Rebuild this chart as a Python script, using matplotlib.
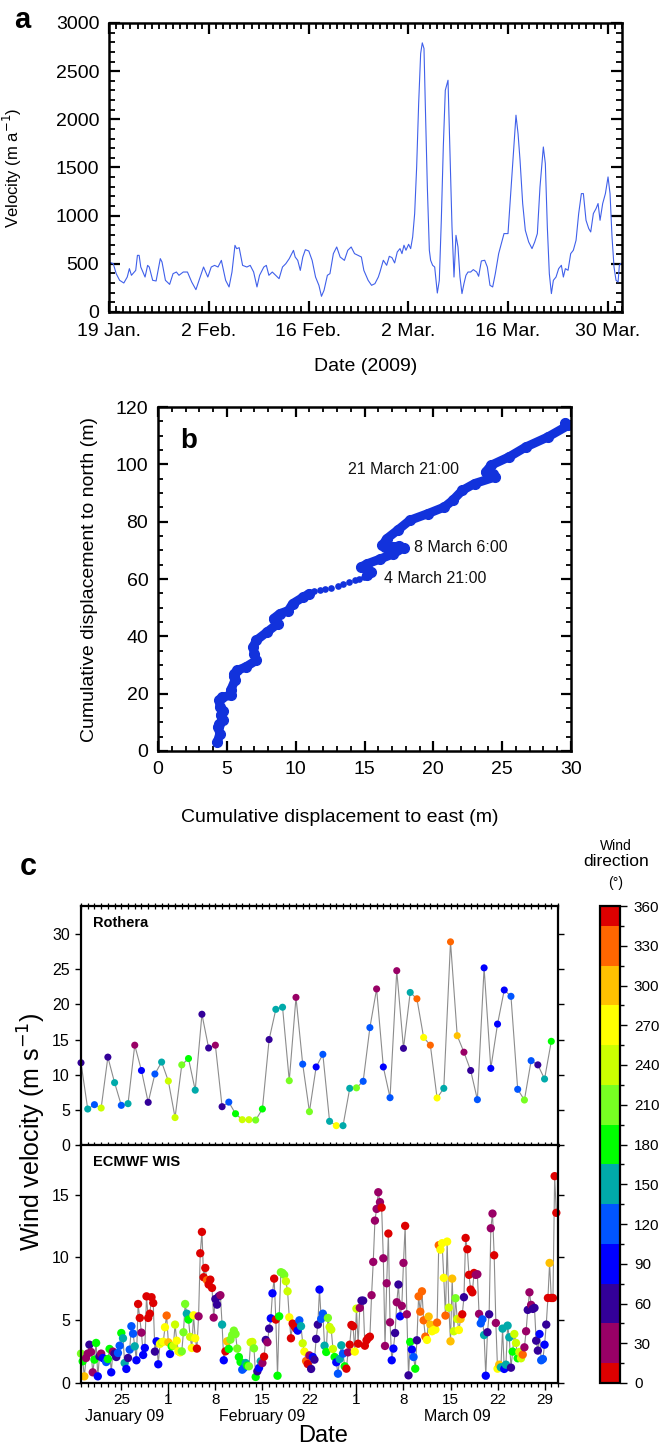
import numpy as np
import pandas as pd
import matplotlib
matplotlib.use('Agg')
import matplotlib.pyplot as plt
import matplotlib.dates as mdates
import matplotlib.transforms as mtransforms
from matplotlib.colors import ListedColormap, BoundaryNorm
from matplotlib.ticker import MultipleLocator, FixedLocator

plt.rcParams['font.family'] = ['Liberation Sans', 'DejaVu Sans']

# ---------------- Panel a: velocity ----------------
vel_day = [0.0, 0.6, 1.01, 1.49, 2.08, 2.56, 2.86, 3.15, 3.75, 3.99, 4.23, 4.46, 5.06, 5.42, 5.65,
           6.13, 6.61, 7.2, 7.44, 7.92, 8.51, 8.99, 9.46, 9.82, 10.42, 11.01, 11.61, 12.2, 12.8,
           13.27, 13.87, 14.35, 14.82, 15.3, 15.77, 16.37, 16.85, 17.26, 17.68, 17.92, 18.27,
           18.75, 19.35, 19.82, 20.3, 20.77, 21.13, 21.73, 22.08, 22.44, 22.92, 23.39, 23.87,
           24.35, 24.82, 25.3, 25.89, 26.13, 26.49, 26.85, 27.2, 27.56, 28.04, 28.51, 28.99,
           29.46, 29.82, 30.18, 30.65, 31.01, 31.49, 31.96, 32.44, 33.04, 33.51, 33.99, 34.46,
           34.94, 35.42, 35.77, 36.37, 36.85, 37.32, 37.8,
           38.03, 38.5, 38.97, 39.34, 39.71, 40.09, 40.46, 40.84, 41.12, 41.4, 41.68, 42.05,
           42.34, 42.62, 42.9, 43.18, 43.46, 43.74, 43.97, 44.21, 44.39, 44.68, 44.96, 45.14,
           45.42, 45.71, 46.08, 46.36, 46.64, 46.92, 47.2, 47.58, 47.86, 48.14, 48.42, 48.7,
           48.98, 49.26, 49.54, 49.82, 50.1, 50.39, 50.76, 51.13, 51.6, 51.88, 52.26, 52.73,
           53.1, 53.47, 53.85, 54.22, 54.69, 55.07, 55.44, 56.0, 56.38, 56.75, 57.12, 57.41,
           57.69, 58.06, 58.43, 58.9, 59.37, 59.75, 60.12, 60.49, 60.96, 61.24, 61.52, 61.8,
           62.09, 62.37, 62.74, 63.11, 63.49, 63.77, 64.05, 64.43, 64.8, 65.17, 65.55, 65.92,
           66.3, 66.58, 66.95, 67.33, 67.61, 67.98, 68.36, 68.64, 68.92, 69.29, 69.67, 70.04,
           70.32, 70.6, 70.88, 71.16, 71.45, 71.63, 71.82]
vel_val = [519, 502, 398, 329, 301, 363, 450, 381, 432, 588, 588, 467, 363, 484, 467,
           329, 322, 554, 519, 329, 287, 398, 415, 381, 415, 415, 311, 232, 363,
           467, 363, 467, 484, 467, 536, 329, 260, 415, 692, 657, 668,
           484, 467, 484, 415, 260, 381, 467, 484, 381, 415, 381, 346,
           467, 502, 554, 640, 571, 536, 432, 571, 647, 633, 536, 363,
           277, 163, 225, 381, 398, 606, 675, 571, 536, 640, 675, 606,
           588, 571, 432, 329, 277, 294, 363,
           415, 537, 485, 578, 565, 509, 623, 658, 606, 693, 641, 703,
           658, 779, 1022, 1506, 2164, 2683, 2794, 2735, 2164, 1298, 641, 537,
           485, 467, 197, 329, 952, 1713, 2302, 2406, 1645, 883, 363, 796,
           675, 363, 191, 295, 381, 415, 415, 440, 415, 371, 530, 537,
           467, 277, 260, 398, 606, 710, 814, 814, 1229, 1645, 2043, 1852,
           1575, 1126, 848, 727, 658, 727, 814, 1298, 1713, 1541, 883, 398,
           191, 329, 363, 450, 485, 363, 450, 433, 606, 641, 744, 1022,
           1229, 1229, 952, 866, 831, 1022, 1074, 1126, 952, 1126, 1229, 1402,
           1229, 779, 467, 329, 311, 485, 502]
a_tick_labels = ['19 Jan.', '2 Feb.', '16 Feb.', '2 Mar.', '16 Mar.', '30 Mar.']

# ---------------- Panel b: displacement ----------------
east_low = [4.3, 4.5, 4.35, 4.45, 4.7, 4.55, 4.75, 4.5, 4.45, 4.66, 5.28, 5.28, 5.59, 5.5, 5.53,
            5.75, 6.37, 7.14, 6.99, 6.9, 7.14, 7.92, 8.7, 8.39, 8.85, 9.47, 9.78, 10.56, 11.0]
north_low = [3.1, 6.0, 8.4, 9.5, 10.7, 12.5, 14.0, 15.5, 17.7, 18.8, 19.4, 21.2, 24.7, 26.0, 27.0,
             28.1, 29.3, 31.6, 34.0, 36.3, 38.6, 41.5, 44.4, 46.2, 47.9, 49.0, 51.4, 53.7, 54.9]
east_gap = [11.34, 11.74, 12.11, 12.58, 13.04, 13.45, 13.91, 14.29, 14.6, 14.97]
north_gap = [55.7, 56.0, 56.5, 57.0, 57.7, 58.1, 58.8, 59.5, 60.0, 60.7]
east_high = [15.2, 15.5, 15.2, 14.75, 15.2, 16.15, 17.1, 17.85, 17.5, 17.1, 16.5, 16.3, 16.6, 17.4,
             18.3, 19.6, 20.8, 21.4, 22.1, 23.0, 24.5, 24.3, 23.8, 24.2, 25.5, 26.7, 28.3, 29.8, 29.6]
north_high = [61.3, 62.5, 63.5, 64.2, 65.3, 67.0, 68.8, 70.9, 71.5, 71.2, 71.2, 71.7, 74.0, 77.0,
              80.5, 82.8, 85.1, 87.4, 90.9, 93.3, 95.6, 96.5, 97.3, 99.7, 102.6, 106.0, 109.5, 113.6, 114.5]
b_notes = ['21 March 21:00', '8 March 6:00', '4 March 21:00']
b_note_east = [13.8, 18.6, 16.4]
b_note_north = [98.2, 70.9, 60.2]

# ---------------- Panel c: wind ----------------
rothera_speed = [11.7, 5.12, 5.74, 5.26, 12.5, 8.87, 5.64, 5.88, 14.2, 10.6,
                 6.07, 10.1, 11.8, 9.1, 3.9, 11.4, 12.3, 7.8, 18.6, 13.8,
                 14.2, 5.45, 6.1, 4.45, 3.6, 3.6, 3.55, 5.12, 15.0, 19.3,
                 19.6, 9.15, 21.0, 11.5, 4.74, 11.1, 12.9, 3.37, 2.75, 2.75,
                 8.06, 8.13, 9.06, 16.7, 22.2, 11.1, 6.73, 24.8, 13.75, 21.7,
                 20.8, 15.3, 14.2, 6.69, 8.06, 28.9, 15.55, 13.2, 10.6, 6.45,
                 25.2, 10.9, 17.2, 22.05, 21.15, 7.92, 6.4, 12.0, 11.4, 9.39, 14.75]
rothera_dir = ("I T LB YG I T LB T M B I LB T YG YG LG G T I I M I LB G YG YG LG G I T "
               "T LG M LB LG B LB T Y T T LG LB LB M B LB M I T O Y O Y T O OY M I LB "
               "B B B B LB LB LG LB I T G").split()

ecmwf_speed = [
    # 19 Jan - 6 Feb
    2.34, 1.73, 0.53, 1.99, 2.34, 3.05, 2.47, 0.85, 1.86, 3.19,
    0.53, 2.12, 2.34, 1.99, 1.91, 1.67, 1.91, 2.71, 0.85, 2.5,
    2.34, 2.07, 2.39, 2.97, 3.98, 3.56, 1.59, 1.12, 1.99, 2.66,
    4.52, 3.93, 2.92, 1.81, 6.29, 5.18, 4.01, 2.23, 2.79, 6.9,
    5.18, 5.52, 6.83, 6.37, 2.5, 3.32, 1.49, 3.11, 3.24, 3.29,
    4.44, 5.37, 3.24, 2.31, 2.92, 2.97, 4.65, 3.37, 2.52, 2.44,
    2.52, 4.04, 6.29, 5.52, 5.05, 3.67, 2.79, 5.39, 3.56, 2.74,
    5.31, 10.33, 12.03,
    # 6 Feb - 24 Feb
    8.42, 9.16, 8.18, 7.84, 8.23, 7.57, 5.21, 6.69, 6.24, 6.9,
    6.99, 4.65, 1.81, 2.52, 3.32, 2.71, 3.45, 3.82, 4.17, 3.9,
    2.74, 2.07, 1.67, 1.06, 1.2, 1.59, 1.38, 1.33, 3.24, 3.27,
    2.76, 0.48, 0.93, 1.2, 1.73, 1.59, 2.1, 3.43, 3.24, 4.33,
    5.15, 7.14, 8.31, 5.05, 0.58, 5.31, 8.82, 8.76, 8.61, 8.1,
    7.3, 5.23, 3.56, 4.73, 4.52, 4.33, 4.17, 4.99, 4.52, 3.16,
    2.5, 1.75, 1.51, 2.2, 1.12, 2.07, 1.86, 3.51, 4.65, 7.44,
    5.1, 5.52,
    # 24 Feb - 13 Mar
    2.97, 2.47, 5.18, 4.46, 4.25, 2.71, 2.07, 1.65, 0.74, 1.91,
    3.0, 2.34, 1.33, 1.14, 2.44, 3.05, 4.62, 4.52, 2.5, 5.92,
    3.13, 5.98, 6.56, 6.56, 2.97, 3.4, 3.59, 3.69, 6.99, 9.64,
    12.93, 13.86, 15.19, 14.4, 13.97, 9.93, 2.95, 7.94, 11.9, 4.83,
    1.81, 2.74, 3.98, 6.43, 7.84, 5.31, 6.14, 9.56, 12.51, 5.47,
    0.61, 3.27, 2.66, 2.07, 1.14, 3.4, 6.9, 5.68, 7.3, 4.99,
    3.69, 3.43, 5.29, 4.65, 4.12, 4.22, 4.25, 4.81, 10.97, 10.62,
    11.13, 8.37,
    # 13 Mar - 30 Mar
    5.37, 11.26, 6.0, 3.32, 8.31, 4.12, 6.75, 5.1, 4.22, 5.1,
    5.47, 6.83, 11.55, 10.65, 8.61, 7.44, 7.22, 8.76, 8.61, 8.66,
    5.5, 4.75, 5.07, 3.82, 0.58, 4.04, 5.47, 12.32, 13.49, 10.17,
    4.78, 1.14, 1.46, 1.25, 4.33, 1.12, 1.46, 4.57, 3.64, 1.22,
    2.5, 3.9, 3.19, 1.97, 2.47, 1.97, 2.26, 2.84, 4.12, 5.82,
    7.22, 6.22, 5.9, 5.98, 3.37, 2.58, 3.9, 1.81, 1.91, 3.05,
    4.65, 6.77, 9.56, 6.77, 6.77, 16.47, 13.55]
ecmwf_dir = ("LG G OY M M I M M G G B I M B B LB G G B M I I LB LB G T T B I LB "
             "LB LB T B R R M B B R R R R R I B B Y YG Y Y O OY B G YG YG Y Y Y "
             "LG LG LG T G YG Y Y Y R M R R "
             "R R O R R R M I I I M T B R OY G LG LG LG LG LG G G LB LB T G LG YG YG "
             "LG G I B T M R I M I B B R R G G LG LG LG YG YG Y R R R R B LB T YG "
             "Y O R M I B I I I B LB LB "
             "T G LG YG YG YG G B LB T T LB G R M R R R Y YG R M I I R R R R M M "
             "M M M M R M M M R M B B I M I B M M R M I G B LB G I O O O O "
             "O Y OY OY Y Y Y O O Y Y Y "
             "O Y YG OY OY YG LG YG Y OY R I R R R R R R M M M LB LB T B I I M M R "
             "M Y OY T T B T T T I G YG YG G YG YG O M M I M M I I I I B LB LB B "
             "I R OY R R R R").split()

dir_degrees = {'R': 5, 'M': 30, 'I': 60, 'B': 90, 'LB': 120, 'T': 150, 'G': 180,
               'LG': 210, 'YG': 240, 'Y': 270, 'OY': 300, 'O': 330}
dir_bounds = [0, 15, 45, 75, 105, 135, 165, 195, 225, 255, 285, 315, 345, 360]
dir_colors = ['#dd0000', '#990066', '#330099', '#0000ff', '#0055ff', '#00aaaa', '#00ff00',
              '#77ff22', '#ccff00', '#ffff00', '#ffc000', '#ff6600', '#dd0000']
c_tick_labels = ['25', '1', '8', '15', '22', '1', '8', '15', '22', '29']
month_names = ['January 09', 'February 09', 'March 09']

# ---------------- Figure ----------------
W, H = 665, 1447
fig = plt.figure(figsize=(W / 100, H / 100), dpi=100)


def box(l, t, r, b):
    return [l / W, 1 - b / H, (r - l) / W, (b - t) / H]


start = pd.Timestamp('2009-01-19')

# ---- a ----
axa = fig.add_axes(box(109, 23, 622, 312))
vel_time = start + pd.to_timedelta(vel_day, unit='D')
axa.plot(vel_time, vel_val, color='#4060ea', lw=0.8)
axa.set_xlim(start, start + pd.Timedelta(days=72))
axa.set_ylim(0, 3000)
axa.set_xticks([start + pd.Timedelta(days=14 * i) for i in range(len(a_tick_labels))])
axa.set_xticklabels(a_tick_labels)
axa.xaxis.set_minor_locator(mdates.DayLocator())
axa.yaxis.set_major_locator(MultipleLocator(500))
axa.yaxis.set_minor_locator(MultipleLocator(100))
axa.tick_params(which='both', direction='in', top=True, right=True)
axa.tick_params(which='major', length=8, width=1.6, labelsize=14)
axa.tick_params(axis='x', which='major', pad=8)
axa.tick_params(axis='y', which='major', pad=7)
axa.tick_params(which='minor', length=4, width=1.3)
for s in axa.spines.values():
    s.set_linewidth(1.8)
axa.set_ylabel('Velocity (m a$^{-1}$)', fontsize=12)
axa.yaxis.set_label_coords(-0.165, 0.5)
axa.set_xlabel('Date (2009)', fontsize=14)
axa.xaxis.set_label_coords(0.5, -0.16)
fig.text(14 / W, 1 - 20 / H, 'a', fontsize=21, fontweight='bold', ha='left', va='center')

# ---- b ----
axb = fig.add_axes(box(158, 407, 571, 751))
bcol = '#1232dc'
axb.plot(east_low, north_low, color=bcol, lw=6.5, solid_capstyle='round', solid_joinstyle='round')
axb.plot(east_low, north_low, 'o', color=bcol, ms=7)
axb.plot(east_gap, north_gap, 'o', color=bcol, ms=4.8, markeredgewidth=0)
axb.plot(east_high, north_high, color=bcol, lw=6.5, solid_capstyle='round', solid_joinstyle='round')
axb.plot(east_high, north_high, 'o', color=bcol, ms=7)
for txt, ex, ny in zip(b_notes, b_note_east, b_note_north):
    axb.text(ex, ny, txt, fontsize=11.5, ha='left', va='center', color='#111111')
axb.set_xlim(0, 30)
axb.set_ylim(0, 120)
axb.xaxis.set_major_locator(MultipleLocator(5))
axb.xaxis.set_minor_locator(MultipleLocator(1))
axb.yaxis.set_major_locator(MultipleLocator(20))
axb.yaxis.set_minor_locator(MultipleLocator(5))
axb.tick_params(which='both', direction='in', top=True, right=True)
axb.tick_params(which='major', length=7, width=1.6, labelsize=14)
axb.tick_params(axis='x', which='major', pad=7)
axb.tick_params(axis='y', which='major', pad=7)
axb.tick_params(which='minor', length=3.5, width=1.3)
for s in axb.spines.values():
    s.set_linewidth(1.8)
axb.set_xlabel('Cumulative displacement to east (m)', fontsize=14)
axb.xaxis.set_label_coords(0.44, -0.168)
axb.set_ylabel('Cumulative displacement to north (m)', fontsize=14)
axb.yaxis.set_label_coords(-0.145, 0.5)
axb.text(0.055, 0.9, 'b', transform=axb.transAxes, fontsize=20, fontweight='bold',
         ha='left', va='center')

# ---- c ----
cmap = ListedColormap(dir_colors)
norm = BoundaryNorm(dir_bounds, cmap.N)

axr = fig.add_axes(box(81, 906, 558, 1145))
axe = fig.add_axes(box(81, 1145, 558, 1383), sharex=axr)
cax = fig.add_axes(box(600, 906, 620, 1383))

rothera_time = pd.date_range('2009-01-19', periods=len(rothera_speed), freq='D')
ecmwf_time = pd.date_range('2009-01-19', periods=len(ecmwf_speed), freq='6h')
rdeg = [dir_degrees[c] for c in rothera_dir]
edeg = [dir_degrees[c] for c in ecmwf_dir]

axr.plot(rothera_time, rothera_speed, color='#8c8c8c', lw=0.8, zorder=1)
axr.scatter(rothera_time, rothera_speed, c=rdeg, cmap=cmap, norm=norm, s=26,
            edgecolors='none', zorder=2, clip_on=False)
axe.plot(ecmwf_time, ecmwf_speed, color='#8c8c8c', lw=0.8, zorder=1)
axe.scatter(ecmwf_time, ecmwf_speed, c=edeg, cmap=cmap, norm=norm, s=36,
            edgecolors='none', zorder=2, clip_on=False)

axr.set_xlim(start, start + pd.Timedelta(days=71))
axr.set_ylim(0, 34.0)
axe.set_ylim(0, 18.95)

week_ticks = [pd.Timestamp('2009-01-25') + pd.Timedelta(days=7 * i) for i in range(len(c_tick_labels))]
axe.set_xticks(week_ticks)
axe.set_xticklabels(c_tick_labels)
axe.xaxis.set_minor_locator(mdates.DayLocator())

for ax in (axr, axe):
    ax.yaxis.set_major_locator(MultipleLocator(5))
    ax.tick_params(axis='y', which='major', direction='out', length=4, width=1.0,
                   labelsize=11.5, pad=4, right=True)
    for s in ax.spines.values():
        s.set_linewidth(1.6)

axr.tick_params(axis='x', which='both', top=True, bottom=True, direction='inout',
                length=4, width=0.9, labelbottom=False)
axe.tick_params(axis='x', which='both', top=False, bottom=True, direction='out')
axe.tick_params(axis='x', which='major', length=5, width=1.0, labelsize=11, pad=2)
axe.tick_params(axis='x', which='minor', length=3, width=0.9)
axr.spines['bottom'].set_linewidth(2.2)

axr.text(0.025, 0.93, 'Rothera', transform=axr.transAxes, fontsize=10.5,
         fontweight='bold', ha='left', va='center')
axe.text(0.025, 0.93, 'ECMWF WIS', transform=axe.transAxes, fontsize=10.5,
         fontweight='bold', ha='left', va='center')

# month labels centred on visible part of each month
month_edges = [start, pd.Timestamp('2009-02-01'), pd.Timestamp('2009-03-01'),
               start + pd.Timedelta(days=71)]
trans = mtransforms.blended_transform_factory(axe.transData, axe.transAxes)
for i, name in enumerate(month_names):
    mid = month_edges[i] + (month_edges[i + 1] - month_edges[i]) / 2
    axe.text(mdates.date2num(mid), -0.142, name, transform=trans, fontsize=11.5,
             ha='center', va='center')

fig.text(323 / W, 1 - 1436 / H, 'Date', fontsize=17, ha='center', va='center')
fig.text(32 / W, 1 - 1132 / H, 'Wind velocity (m s$^{-1}$)', fontsize=18,
         rotation=90, ha='center', va='center')
fig.text(28 / W, 1 - 867 / H, 'c', fontsize=22, fontweight='bold', ha='center', va='center')

# colorbar
sm = plt.cm.ScalarMappable(norm=norm, cmap=cmap)
cb = fig.colorbar(sm, cax=cax, ticks=np.arange(0, 361, 30), spacing='proportional')
cb.set_ticks(np.arange(15, 360, 30), minor=True)
cb.outline.set_linewidth(1.6)
cax.tick_params(which='major', length=5, width=1.0, labelsize=11, pad=5)
cax.tick_params(which='minor', length=3, width=1.0)
fig.text(616 / W, 1 - 846 / H, 'Wind', fontsize=10, ha='center', va='center')
fig.text(616 / W, 1 - 861 / H, 'direction', fontsize=12.5, ha='center', va='center')
fig.text(616 / W, 1 - 883 / H, '(°)', fontsize=10, ha='center', va='center')

# long ticks at month starts
for tk, lab in zip(axe.xaxis.get_major_ticks(), c_tick_labels):
    if lab == '1':
        tk.tick1line.set_markersize(13)

fig.savefig('out.png', dpi=100)
